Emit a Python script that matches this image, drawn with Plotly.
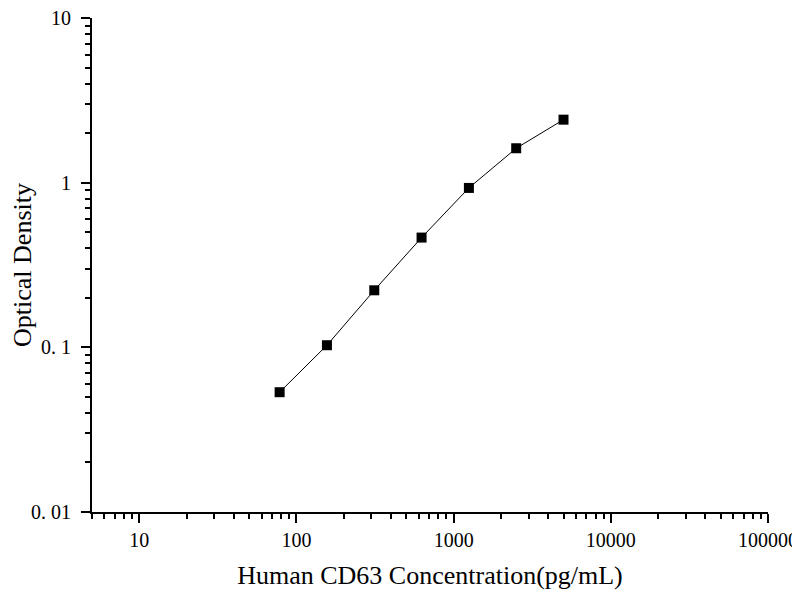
import plotly.graph_objects as go

# Standard curve points
concentrations = [78.125, 156.25, 312.5, 625, 1250, 2500, 5000]
optical_density = [0.0534, 0.103, 0.222, 0.464, 0.929, 1.618, 2.413]

x_ticks = [10, 100, 1000, 10000, 100000]
x_tick_text = ['10', '100', '1000', '10000', '100000']
y_ticks = [0.01, 0.1, 1, 10]
y_tick_text = ['0. 01', '0. 1', '1', '10']

# minor ticks at 2..9 of each decade
x_minor = [m * 10 ** e for e in range(0, 5) for m in range(2, 10) if 5 <= m * 10 ** e < 100000]
y_minor = [m * 10.0 ** e for e in range(-2, 1) for m in range(2, 10)]

serif = 'Liberation Serif, Times New Roman, serif'

fig = go.Figure()
fig.add_trace(go.Scatter(
    x=concentrations, y=optical_density,
    mode='lines+markers',
    line=dict(color='black', width=1),
    marker=dict(symbol='square', size=10, color='black'),
    showlegend=False,
))

# page body has an 8px margin, so margins are shifted to compensate
fig.update_layout(
    width=800, height=600,
    margin=dict(l=84, r=40, t=10, b=96),
    plot_bgcolor='white', paper_bgcolor='white',
    font=dict(family=serif, color='black'),
)
fig.update_xaxes(
    type='log', range=[0.699, 5], automargin=False,
    tickvals=x_ticks, ticktext=x_tick_text, ticklabeloverflow='allow',
    ticks='outside', ticklen=9, tickwidth=2, tickcolor='black',
    showline=True, linewidth=2, linecolor='black',
    showgrid=False, zeroline=False,
    tickfont=dict(size=20),
    minor=dict(tickvals=x_minor, ticks='outside', ticklen=5, tickwidth=2,
               tickcolor='black', showgrid=False),
    title=dict(text='Human CD63 Concentration(pg/mL)', font=dict(size=26), standoff=16),
)
fig.update_yaxes(
    type='log', range=[-2, 1], automargin=False,
    tickvals=y_ticks, ticktext=y_tick_text, ticklabelstandoff=6,
    ticklabeloverflow='allow',
    ticks='outside', ticklen=9, tickwidth=2, tickcolor='black',
    showline=True, linewidth=2, linecolor='black',
    showgrid=False, zeroline=False,
    tickfont=dict(size=20),
    minor=dict(tickvals=y_minor, ticks='outside', ticklen=5, tickwidth=2,
               tickcolor='black', showgrid=False),
    title=dict(text='Optical Density', font=dict(size=26), standoff=11),
)

fig.write_html('out.html')
